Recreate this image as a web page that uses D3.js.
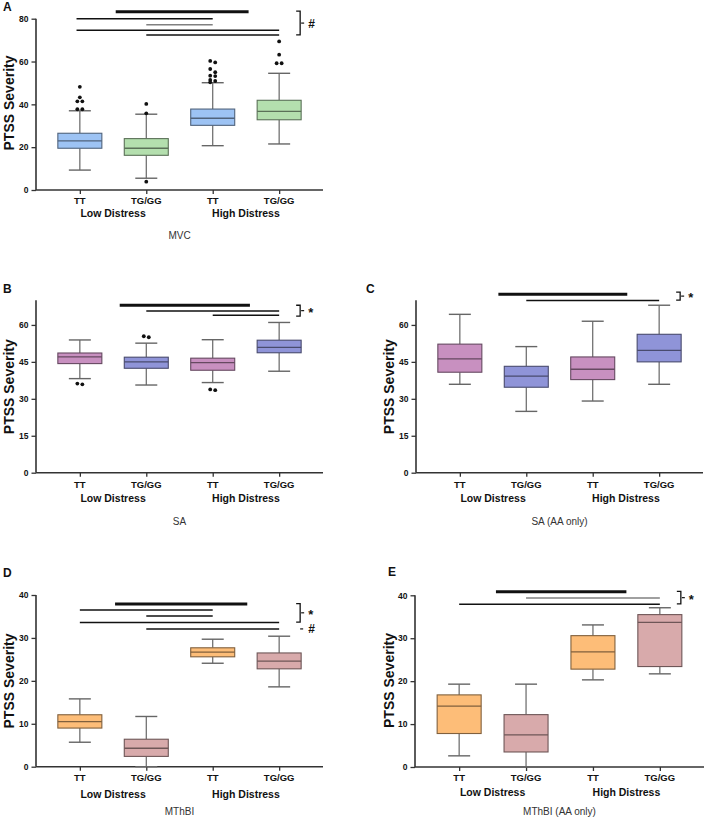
<!DOCTYPE html>
<html><head><meta charset="utf-8">
<script src="https://cdn.jsdelivr.net/npm/d3@7"></script>
<style>body{margin:0;background:#fff} text{font-family:"Liberation Sans",Arial,sans-serif}</style>
</head><body><svg id="c" width="708" height="818"></svg>
<script>
const categories = ["TT", "TG/GG", "TT", "TG/GG"];
const groups = ["Low Distress", "High Distress"];

// box stats per category: [lower whisker, Q1, median, Q3, upper whisker]
const mvcStats = [[9.3,19.5,22.9,26.5,37.0],[5.5,16.2,19.5,24.0,35.4],[20.7,30.2,33.5,37.8,50.1],[21.5,32.8,36.7,41.9,54.5]];
const mvcOutliers = [[48.2,43.3,41.4,41.4,37.7,37.7],[40.2,35.8,3.9],[60.3,59.6,56.5,55.0,53.4,53.2,51.4,50.9,50.3],[69.4,63.2,59.2,59.2]];
const saStats = [[38.2,44.3,47.0,48.6,53.9],[35.6,42.4,45.0,46.9,52.6],[36.6,41.6,44.7,46.5,54.0],[41.2,48.7,50.9,53.8,61.0]];
const saOutliers = [[35.9,36.2],[55.0,55.4],[33.5,33.8],[]];
const saAAStats = [[35.9,40.8,46.2,52.2,64.3],[24.9,34.7,39.2,43.2,51.2],[29.1,37.8,42.0,47.0,61.5],[35.9,45.0,49.7,56.2,68.0]];
const mthbiStats = [[5.7,9.0,10.5,12.1,15.8],[0.0,2.4,4.3,6.4,11.7],[24.1,25.6,26.7,27.7,29.7],[18.6,22.8,24.6,26.5,30.4]];
const mthbiAAStats = [[2.6,7.8,14.2,16.8,19.3],[0.0,3.5,7.5,12.2,19.3],[20.3,22.8,26.8,30.6,33.1],[21.7,23.4,33.7,35.5,37.1]];

// significance bars: [from category, to category, y value, heavy?, grey?]
const mvcSig = [[0.54,2.54,83.2,1,0],[-0.05,2,80,0,0],[1,2,77.2,0,1],[-0.05,3,74.6,0,0],[1,3,72.4,0,0]];
const saSig = [[0.6,2.56,68.0,1,0],[1,3,65.7,0,0],[2,3,63.9,0,0]];
const saAASig = [[0.58,2.52,72.5,1,0],[1,3,69.9,0,0]];
const mthbiSig = [[0.53,2.52,37.9,1,0],[0,2,36.5,0,0],[1,2,35.1,0,0],[0,3,33.6,0,0],[1,3,32.1,0,0]];
const mthbiAASig = [[0.55,2.5,40.8,1,0],[1,3,39.4,0,1],[0,3,37.9,0,0]];
// brackets: [top value, bottom value, label]
const mvcBrackets = [[83.5,72.4,"#"]];
const saBrackets = [[68.0,63.6,"*"]];
const saAABrackets = [[73.3,70.1,"*"]];
const mthbiBrackets = [[38.0,33.7,"*"],[32.1,32.1,"#"]];
const mthbiAABrackets = [[40.9,38.0,"*"]];

const yTicksA = [0,20,40,60,80];
const yTicksSA = [0,15,30,45,60];
const yTicksM = [0,10,20,30,40];
const subtitles = ["MVC","SA","SA (AA only)","MThBI","MThBI (AA only)"];

const palA = ["#9dc3f4","#b4dfae","#9dc3f4","#b4dfae"];
const palS = ["#c890c0","#8f94d8","#c890c0","#8f94d8"];
const palM = ["#fdbd78","#d8aaab","#fdbd78","#d8aaab"];

const panels = [
 {letter:"A",lx:3,ly:11,x0:36,x1:323,yZero:190,yTop:18.7,max:80,ticks:yTicksA,tickY:203.5,groupY:217,subY:238.5,titleX:14,titleY:103,sub:subtitles[0],stats:mvcStats,out:mvcOutliers,sig:mvcSig,br:mvcBrackets,pal:palA,groupLabels:true},
 {letter:"B",lx:3,ly:293,x0:36,x1:323,yZero:472.7,yTop:300.3,max:70,ticks:yTicksSA,tickY:487.5,groupY:501.5,subY:524.5,titleX:14,titleY:386.7,sub:subtitles[1],stats:saStats,out:saOutliers,sig:saSig,br:saBrackets,pal:palS,groupLabels:true},
 {letter:"C",lx:366,ly:293,x0:416,x1:703,yZero:472.7,yTop:300.3,max:70,ticks:yTicksSA,tickY:487.5,groupY:501.5,subY:524.5,titleX:394,titleY:386.7,sub:subtitles[2],stats:saAAStats,out:null,sig:saAASig,br:saAABrackets,pal:palS,groupLabels:true},
 {letter:"D",lx:3,ly:577,x0:36,x1:323,yZero:766.7,yTop:595,max:40,ticks:yTicksM,tickY:780.5,groupY:798,subY:814.5,titleX:14,titleY:681,sub:subtitles[3],stats:mthbiStats,out:null,sig:mthbiSig,br:mthbiBrackets,pal:palM,groupLabels:true},
 {letter:"E",lx:388,ly:576,x0:415,x1:704,yZero:767,yTop:595.3,max:40,ticks:yTicksM,tickY:781,groupY:795.5,subY:814.5,titleX:394,titleY:680.5,sub:subtitles[4],stats:mthbiAAStats,out:null,sig:mthbiAASig,br:mthbiAABrackets,pal:palM,groupLabels:true}
];

const svg = d3.select("#c");
const axisCol = "#333";

panels.forEach(p => {
  const g = svg.append("g");
  const x = d3.scalePoint().domain([0,1,2,3]).range([p.x0, p.x1]).padding(0.66);
  const step = x.step();
  const xi = t => x(0) + t*step;
  const y = d3.scaleLinear().domain([0, p.max]).range([p.yZero, p.yTop]);
  const bw = 44, cw = 22;

  // axes
  const yAx = g.append("g").attr("transform",`translate(${p.x0},0)`)
    .call(d3.axisLeft(y).tickValues(p.ticks).tickSize(4.5).tickPadding(3).tickFormat(d3.format("d")));
  yAx.select(".domain").attr("d",`M0,${y(p.max)}V${y(0)}`);
  const xAx = g.append("g").attr("transform",`translate(0,${p.yZero})`)
    .call(d3.axisBottom(x).tickSize(4).tickFormat(()=>""));
  xAx.select(".domain").attr("d",`M${p.x0},0H${p.x1}`);
  [yAx,xAx].forEach(a=>{
    a.selectAll(".domain").attr("stroke",axisCol).attr("stroke-width",1.6);
    a.selectAll(".tick line").attr("stroke",axisCol).attr("stroke-width",1.3);
  });
  yAx.selectAll(".tick text").attr("font-size",8.5).attr("font-weight","bold").attr("fill","#111")
    .attr("font-family","'Liberation Sans',Arial,sans-serif");

  // category tick labels
  g.selectAll("text.cat").data(categories).join("text").attr("class","cat")
    .attr("x",(d,i)=>x(i)).attr("y",p.tickY).attr("text-anchor","middle")
    .attr("font-size",9.5).attr("font-weight","bold").attr("fill","#111").text(d=>d);
  g.selectAll("text.grp").data(groups).join("text").attr("class","grp")
    .attr("x",(d,i)=>(x(2*i)+x(2*i+1))/2).attr("y",p.groupY).attr("text-anchor","middle")
    .attr("font-size",10.5).attr("font-weight","bold").attr("fill","#111").text(d=>d);
  g.append("text").attr("x",(p.x0+p.x1)/2).attr("y",p.subY).attr("text-anchor","middle")
    .attr("font-size",10).attr("fill","#333").text(p.sub);
  g.append("text").attr("x",p.lx).attr("y",p.ly).attr("font-size",12).attr("font-weight","bold").attr("fill","#111").text(p.letter);
  g.append("text").attr("transform",`translate(${p.titleX},${p.titleY}) rotate(-90)`).attr("text-anchor","middle")
    .attr("font-size",14).attr("font-weight","bold").attr("fill","#111").text("PTSS Severity");

  // boxes
  p.stats.forEach((s,i)=>{
    const cx = x(i);
    const fill = p.pal[i];
    const stroke = d3.color(fill).darker(1.9).formatHex();
    const wc = "#666";
    const bg = g.append("g");
    bg.append("line").attr("x1",cx).attr("x2",cx).attr("y1",y(s[4])).attr("y2",y(s[3])).attr("stroke",wc).attr("stroke-width",1.2);
    bg.append("line").attr("x1",cx).attr("x2",cx).attr("y1",y(s[1])).attr("y2",y(s[0])).attr("stroke",wc).attr("stroke-width",1.2);
    bg.append("line").attr("x1",cx-cw/2).attr("x2",cx+cw/2).attr("y1",y(s[4])).attr("y2",y(s[4])).attr("stroke",wc).attr("stroke-width",1.4);
    bg.append("line").attr("x1",cx-cw/2).attr("x2",cx+cw/2).attr("y1",y(s[0])).attr("y2",y(s[0])).attr("stroke",wc).attr("stroke-width",1.4);
    bg.append("rect").attr("x",cx-bw/2).attr("width",bw).attr("y",y(s[3])).attr("height",y(s[1])-y(s[3]))
      .attr("fill",fill).attr("stroke",stroke).attr("stroke-width",1.1);
    bg.append("line").attr("x1",cx-bw/2).attr("x2",cx+bw/2).attr("y1",y(s[2])).attr("y2",y(s[2])).attr("stroke",stroke).attr("stroke-width",1.3);
    if (p.out) {
      const vals = p.out[i].slice().sort((a,b)=>b-a);
      let prev = null, side = 1;
      vals.forEach(v=>{
        let off = 0;
        if (prev !== null && Math.abs(y(v)-y(prev.v)) < 3.5) { off = prev.off === 0 ? 2.5 : -prev.off; if (prev.off===0) prev.node.attr("cx",cx-2.5); }
        const node = bg.append("circle").attr("cx",cx+off).attr("cy",y(v)).attr("r",1.9).attr("fill","#111");
        prev = {v:v, off: off===0 && prev && Math.abs(y(v)-y(prev.v))<3.5 ? 2.5 : off, node:node};
      });
    }
  });

  // significance lines
  p.sig.forEach(s=>{
    g.append("line").attr("x1",xi(s[0])).attr("x2",xi(s[1])).attr("y1",y(s[2])).attr("y2",y(s[2]))
      .attr("stroke",s[4]?"#808080":"#111").attr("stroke-width",s[3]?3:1.5);
  });
  // brackets
  const bx = x(3)+17;
  p.br.forEach(b=>{
    const y1 = y(b[0]), y2 = y(b[1]), ym = (y1+y2)/2;
    if (b[0] !== b[1]) {
      g.append("path").attr("d",`M${bx},${y1}H${bx+4}V${y2}H${bx}`).attr("fill","none").attr("stroke","#111").attr("stroke-width",1.3);
      g.append("line").attr("x1",bx+5).attr("x2",bx+8).attr("y1",ym).attr("y2",ym).attr("stroke","#111").attr("stroke-width",1.2);
    } else {
      g.append("line").attr("x1",bx+4).attr("x2",bx+7).attr("y1",ym).attr("y2",ym).attr("stroke","#111").attr("stroke-width",1.2);
    }
    g.append("text").attr("x",bx+12).attr("y",ym+(b[2]==="*"?6:4.5)).attr("font-size",b[2]==="*"?13:12).attr("font-weight","bold").attr("fill","#111").text(b[2]);
  });
});
</script></body></html>
